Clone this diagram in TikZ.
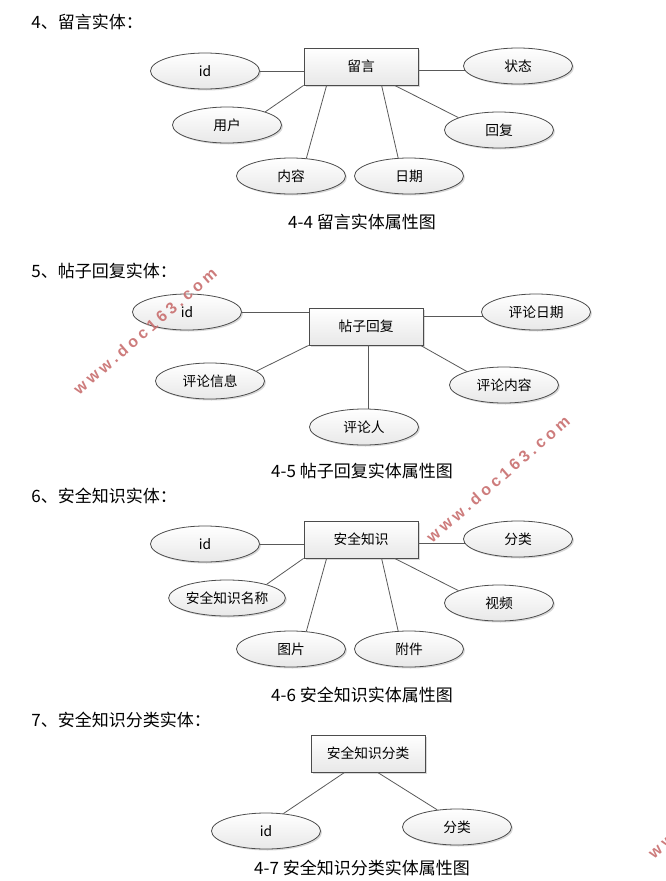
\documentclass[tikz,border=0pt]{standalone}
\usepackage{fontspec}
\setmainfont{Noto Sans CJK SC}
\newfontfamily\markfont[LetterSpace=24]{Liberation Sans}
\definecolor{stampred}{RGB}{200,110,110}
\usetikzlibrary{positioning,shapes.geometric,shadows}

\begin{document}
\begin{tikzpicture}[
    x=1pt,
    y=-1pt,
    line width=0.8pt
]

\tikzstyle{entity}=[
    rectangle,
    draw=black!70,
    top color=white,
    bottom color=black!9,
    minimum width=114pt,
    minimum height=37pt,
    inner sep=0pt,
    font=\fontsize{13.75}{15}\selectfont,
    drop shadow={shadow xshift=1.5pt,shadow yshift=-1.5pt,opacity=.3}
]
\tikzstyle{attr}=[
    ellipse,
    draw=black!70,
    top color=white,
    bottom color=black!9,
    minimum width=109pt,
    minimum height=36pt,
    inner sep=0pt,
    font=\fontsize{13.75}{15}\selectfont,
    drop shadow={shadow xshift=1.5pt,shadow yshift=-1.5pt,opacity=.3}
]
\tikzstyle{link}=[draw=black!65]
\tikzstyle{heading}=[anchor=west,inner sep=0pt,font=\fontsize{17}{19}\selectfont]
\tikzstyle{caption}=[inner sep=0pt,font=\fontsize{17}{19}\selectfont]
\tikzstyle{stamp}=[text=stampred,opacity=.9,font=\markfont\bfseries\fontsize{16}{17}\selectfont,rotate=41,inner sep=0pt]

\useasboundingbox (0,0) rectangle (665,881);

% 4
\node[heading] (h1) at (31,22) {4、留言实体：};
\node[entity] (b1) at (361,66.5) {留言};
\node[attr] (id1) at (205,71) {id};
\node[attr] (state1) at (518,66) {状态};
\node[attr] (user1) at (227,125) {用户};
\node[attr] (reply1) at (499,130) {回复};
\node[attr] (text1) at (291,176) {内容};
\node[attr] (date1) at (409,176) {日期};
\node[caption] (c1) at (362,222) {4-4 留言实体属性图};

\draw[link] (id1.east) -- (id1.east -| b1.west);
\draw[link] (state1.185 -| b1.east) -- (state1.185);
\draw[link] (b1.south west) -- (user1.19);
\draw[link] ([xshift=23pt]b1.south west) -- (text1.49);
\draw[link] ([xshift=78pt]b1.south west) -- (date1.121);
\draw[link] ([xshift=91pt]b1.south west) -- (reply1.163);

% 5
\node[heading] (h2) at (31,271) {5、帖子回复实体：};
\node[entity] (b2) at (366,326.5) {帖子回复};
\node[attr] (id2) at (187,312) {id};
\node[attr] (date2) at (536,312) {评论日期};
\node[attr] (info2) at (210,381) {评论信息};
\node[attr] (text2) at (504,385) {评论内容};
\node[attr] (user2) at (364,427) {评论人};
\node[caption] (c2) at (362,471) {4-5 帖子回复实体属性图};

\draw[link] (id2.east) -- (id2.east -| b2.west);
\draw[link] (date2.185 -| b2.east) -- (date2.185);
\draw[link] (b2.south west) -- (info2.12);
\draw[link] ([xshift=112pt]b2.south west) -- (text2.160);
\draw[link] ([xshift=2pt]b2.south) -- ([xshift=4pt]user2.north);

% 6
\node[heading] (h3) at (31,496) {6、安全知识实体：};
\node[entity] (b3) at (361,539.5) {安全知识};
\node[attr] (id3) at (205,544) {id};
\node[attr] (type3) at (518,539) {分类};
\node[attr] (name3) at (227,598) {安全知识名称};
\node[attr] (video3) at (499,603) {视频};
\node[attr] (pic3) at (291,649) {图片};
\node[attr] (file3) at (409,649) {附件};
\node[caption] (c3) at (362,695) {4-6 安全知识实体属性图};

\draw[link] (id3.east) -- (id3.east -| b3.west);
\draw[link] (type3.185 -| b3.east) -- (type3.185);
\draw[link] (b3.south west) -- (name3.19);
\draw[link] ([xshift=23pt]b3.south west) -- (pic3.49);
\draw[link] ([xshift=78pt]b3.south west) -- (file3.121);
\draw[link] ([xshift=91pt]b3.south west) -- (video3.163);

% 7
\node[heading] (h4) at (31,720) {7、安全知识分类实体：};
\node[entity] (b4) at (368,753.5) {安全知识分类};
\node[attr] (id4) at (266,831) {id};
\node[attr] (type4) at (457,827) {分类};
\node[caption] (c4) at (362,868) {4-7 安全知识分类实体属性图};

\draw[link] ([xshift=34pt]b4.south west) -- (id4.45);
\draw[link] ([xshift=67pt]b4.south west) -- (type4.139);

% watermark
\node[stamp] (m1) at (145,331) {www.doc163.com};
\node[stamp] (m2) at (498,479) {www.doc163.com};
\node[stamp,anchor=west] (m3) at (650,855) {www.doc163.com};

\end{tikzpicture}
\end{document}
